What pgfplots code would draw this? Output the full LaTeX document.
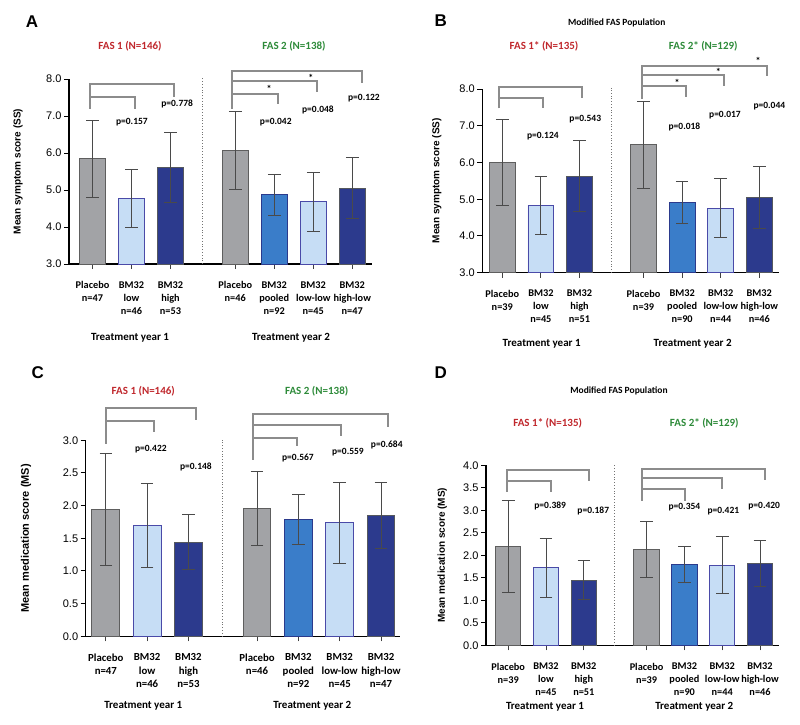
\documentclass[border=0pt]{standalone}
\usepackage{pgfplots}
\pgfplotsset{compat=1.18}
\usepackage{fontspec}
\setmainfont{Carlito}
\newfontfamily\arialf{Liberation Sans}

\definecolor{cgray}{HTML}{A2A3A6}
\definecolor{cgrayd}{HTML}{5E5E5E}
\definecolor{clight}{HTML}{C6DDF5}
\definecolor{clightd}{HTML}{4A4AA8}
\definecolor{cmed}{HTML}{3A7DC9}
\definecolor{cmedd}{HTML}{2B3A8C}
\definecolor{cnavy}{HTML}{2C3A8D}
\definecolor{cnavyd}{HTML}{55585E}
\definecolor{errc}{HTML}{4A4A4A}
\definecolor{brc}{HTML}{8C8C8C}
\definecolor{fasred}{HTML}{C0282D}
\definecolor{fasgreen}{HTML}{2E8B3A}

\newcommand{\fs}[2]{\fontsize{#1}{#2}\selectfont}

\pgfplotsset{
  panel/.style={
    scale only axis, anchor=south west, clip=false,
    axis lines*=left,
    axis line style={-, line width=1.2pt, black},
    ybar, bar width=0.67, bar shift=0pt,
    xtick={0,1,2,3.66,4.66,5.66,6.66},
    tick align=outside, major tick length=5pt,
    xtick style={line width=1pt, black!75},
    ytick style={line width=1pt, black},
    x tick label style={font=\bfseries\fs{10.3}{13}, align=center, yshift=-9pt},
    y tick label style={font=\arialf\fs{11}{12}, xshift=1pt},
    yticklabel style={/pgf/number format/.cd, fixed, fixed zerofill, precision=1, assume math mode=true},
    error bars/y dir=both, error bars/y explicit,
    error bars/error bar style={line width=1pt, errc},
    error bars/error mark options={rotate=90, line width=1pt, errc, mark size=6.3pt},
  },
  gbar/.style={fill=cgray, draw=cgrayd, line width=1pt},
  lbar/.style={fill=clight, draw=clightd, line width=0.9pt},
  mbar/.style={fill=cmed, draw=cmedd, line width=0.9pt},
  nbar/.style={fill=cnavy, draw=cnavyd, line width=0.9pt},
}
\tikzset{
  brk/.style={draw=brc, line width=2pt},
  sep/.style={dotted, black!55, line width=0.8pt},
  pval/.style={font=\bfseries\fs{9.5}{10}},
  star/.style={font=\bfseries\fs{10}{10}},
  letter/.style={font=\arialf\bfseries\fs{17}{17}},
  fas/.style={font=\bfseries\fs{11}{12}},
  treat/.style={font=\bfseries\fs{11}{12}},
  modif/.style={font=\bfseries\fs{9.5}{11}},
  ylab/.style={font=\arialf\bfseries\fs{10}{12}, rotate=90},
}

\begin{document}
\begin{tikzpicture}
\useasboundingbox (0pt,0pt) rectangle (800pt,-725pt);

% ---------------- A ----------------
\begin{axis}[panel,
  at={(69pt,-264pt)}, width=303pt, height=185pt,
  xmin=-0.603, xmax=7.167, ymin=3, ymax=8, ytick={3,4,...,8},
  xticklabels={{Placebo\\n=47},{BM32\\low\\n=46},{BM32\\high\\n=53},{Placebo\\n=46},{BM32\\pooled\\n=92},{BM32\\low-low\\n=45},{BM32\\high-low\\n=47}},
]
\addplot[gbar] coordinates {(0,5.85) +- (0,1.04) (3.66,6.07) +- (0,1.06)};
\addplot[lbar] coordinates {(1,4.78) +- (0,0.78) (5.66,4.68) +- (0,0.80)};
\addplot[mbar] coordinates {(4.66,4.87) +- (0,0.56)};
\addplot[nbar] coordinates {(2,5.60) +- (0,0.95) (6.66,5.05) +- (0,0.82)};
\draw[sep] (axis cs:2.81,3) -- (axis cs:2.81,8.04);
\draw[brk] (axis cs:-0.06,7.2) -- (axis cs:-0.06,7.86) -- (axis cs:2.1,7.86) -- (axis cs:2.1,7.52);
\draw[brk] (axis cs:-0.06,7.52) -- (axis cs:1.1,7.52) -- (axis cs:1.1,7.2);
\draw[brk] (axis cs:3.58,7.2) -- (axis cs:3.58,8.22) -- (axis cs:6.91,8.22) -- (axis cs:6.91,7.88);
\draw[brk] (axis cs:3.58,7.95) -- (axis cs:5.76,7.95) -- (axis cs:5.76,7.64);
\draw[brk] (axis cs:3.58,7.6) -- (axis cs:4.76,7.6) -- (axis cs:4.76,7.32);
\node[star] at (axis cs:4.53,7.74) {*};
\node[star] at (axis cs:5.6,8.04) {*};
\node[pval] at (axis cs:1.01,6.84) {p=0.157};
\node[pval] at (axis cs:2.17,7.32) {p=0.778};
\node[pval] at (axis cs:4.7,6.84) {p=0.042};
\node[pval] at (axis cs:5.78,7.16) {p=0.048};
\node[pval] at (axis cs:6.96,7.49) {p=0.122};
\end{axis}
\node[letter] at (32pt,-22pt) {A};
\node[fas, fasred] at (130pt,-46pt) {FAS 1 (N=146)};
\node[fas, fasgreen] at (294pt,-46pt) {FAS 2 (N=138)};
\node[treat] at (130pt,-338pt) {Treatment year 1};
\node[treat] at (291pt,-338pt) {Treatment year 2};
\node[ylab] at (18pt,-171.5pt) {Mean symptom score (SS)};

% ---------------- B ----------------
\begin{axis}[panel,
  at={(482.3pt,-272.7pt)}, width=296.7pt, height=183.7pt,
  xmin=-0.518, xmax=7.17, ymin=3, ymax=8, ytick={3,4,...,8},
  xticklabels={{Placebo\\n=39},{BM32\\low\\n=45},{BM32\\high\\n=51},{Placebo\\n=39},{BM32\\pooled\\n=90},{BM32\\low-low\\n=44},{BM32\\high-low\\n=46}},
]
\addplot[gbar] coordinates {(0,6.00) +- (0,1.17) (3.66,6.48) +- (0,1.18)};
\addplot[lbar] coordinates {(1,4.84) +- (0,0.79) (5.66,4.76) +- (0,0.81)};
\addplot[mbar] coordinates {(4.66,4.90) +- (0,0.57)};
\addplot[nbar] coordinates {(2,5.63) +- (0,0.97) (6.66,5.04) +- (0,0.84)};
\draw[sep] (axis cs:2.82,3) -- (axis cs:2.82,8.04);
\draw[brk] (axis cs:-0.085,7.47) -- (axis cs:-0.085,8.05) -- (axis cs:2.06,8.05) -- (axis cs:2.06,7.76);
\draw[brk] (axis cs:-0.085,7.76) -- (axis cs:1.06,7.76) -- (axis cs:1.06,7.47);
\draw[brk] (axis cs:3.63,7.73) -- (axis cs:3.63,8.63) -- (axis cs:6.85,8.63) -- (axis cs:6.85,8.35);
\draw[brk] (axis cs:3.63,8.37) -- (axis cs:5.75,8.37) -- (axis cs:5.75,8.08);
\draw[brk] (axis cs:3.63,8.07) -- (axis cs:4.75,8.07) -- (axis cs:4.75,7.79);
\node[star] at (axis cs:4.53,8.16) {*};
\node[star] at (axis cs:5.6,8.47) {*};
\node[star] at (axis cs:6.63,8.77) {*};
\node[pval] at (axis cs:1.05,6.72) {p=0.124};
\node[pval] at (axis cs:2.15,7.18) {p=0.543};
\node[pval] at (axis cs:4.72,6.96) {p=0.018};
\node[pval] at (axis cs:5.77,7.29) {p=0.017};
\node[pval] at (axis cs:6.92,7.54) {p=0.044};
\end{axis}
\node[letter] at (440.7pt,-20.7pt) {B};
\node[modif] at (616.7pt,-22.7pt) {Modified FAS Population};
\node[fas, fasred] at (544pt,-46.7pt) {FAS 1* (N=135)};
\node[fas, fasgreen] at (703.3pt,-46.7pt) {FAS 2* (N=129)};
\node[treat] at (541.7pt,-343.7pt) {Treatment year 1};
\node[treat] at (692.7pt,-343.7pt) {Treatment year 2};
\node[ylab] at (436.7pt,-180.8pt) {Mean symptom score (SS)};

% ---------------- C ----------------
\begin{axis}[panel,
  at={(85.7pt,-636.3pt)}, width=314.3pt, height=196pt,
  xmin=-0.487, xmax=7.12, ymin=0, ymax=3, ytick={0,0.5,...,3},
  x tick label style={font=\bfseries\fs{10.8}{13.5}},
  xticklabels={{Placebo\\n=47},{BM32\\low\\n=46},{BM32\\high\\n=53},{Placebo\\n=46},{BM32\\pooled\\n=92},{BM32\\low-low\\n=45},{BM32\\high-low\\n=47}},
]
\addplot[gbar] coordinates {(0,1.94) +- (0,0.86) (3.66,1.95) +- (0,0.565)};
\addplot[lbar] coordinates {(1,1.70) +- (0,0.645) (5.66,1.74) +- (0,0.62)};
\addplot[mbar] coordinates {(4.66,1.79) +- (0,0.385)};
\addplot[nbar] coordinates {(2,1.44) +- (0,0.42) (6.66,1.85) +- (0,0.50)};
\draw[sep] (axis cs:2.82,0) -- (axis cs:2.82,3.02);
\draw[brk] (axis cs:0.01,2.95) -- (axis cs:0.01,3.49) -- (axis cs:2.18,3.49) -- (axis cs:2.18,3.31);
\draw[brk] (axis cs:0.01,3.30) -- (axis cs:1.16,3.30) -- (axis cs:1.16,3.12);
\draw[brk] (axis cs:3.55,2.70) -- (axis cs:3.55,3.41) -- (axis cs:6.84,3.41) -- (axis cs:6.84,3.21);
\draw[brk] (axis cs:3.55,3.23) -- (axis cs:5.7,3.23) -- (axis cs:5.7,3.06);
\draw[brk] (axis cs:3.55,3.04) -- (axis cs:4.62,3.04) -- (axis cs:4.62,2.91);
\node[pval] at (axis cs:1.09,2.86) {p=0.422};
\node[pval] at (axis cs:2.18,2.59) {p=0.148};
\node[pval] at (axis cs:4.65,2.73) {p=0.567};
\node[pval] at (axis cs:5.86,2.82) {p=0.559};
\node[pval] at (axis cs:6.8,2.93) {p=0.684};
\end{axis}
\node[letter] at (37.7pt,-372.7pt) {C};
\node[fas, fasred] at (143.3pt,-391pt) {FAS 1 (N=146)};
\node[fas, fasgreen] at (316.7pt,-391pt) {FAS 2 (N=138)};
\node[treat] at (143.3pt,-705.3pt) {Treatment year 1};
\node[treat] at (312.3pt,-705.3pt) {Treatment year 2};
\node[ylab, font=\arialf\bfseries\fs{11}{12}] at (26pt,-538.3pt) {Mean medication score (MS)};

% ---------------- D ----------------
\begin{axis}[panel,
  at={(486pt,-645.3pt)}, width=293.3pt, height=180pt,
  xmin=-0.587, xmax=7.17, ymin=0, ymax=4, ytick={0,0.5,...,4},
  xticklabels={{Placebo\\n=39},{BM32\\low\\n=45},{BM32\\high\\n=51},{Placebo\\n=39},{BM32\\pooled\\n=90},{BM32\\low-low\\n=44},{BM32\\high-low\\n=46}},
]
\addplot[gbar] coordinates {(0,2.20) +- (0,1.02) (3.66,2.13) +- (0,0.63)};
\addplot[lbar] coordinates {(1,1.72) +- (0,0.66) (5.66,1.78) +- (0,0.63)};
\addplot[mbar] coordinates {(4.66,1.80) +- (0,0.395)};
\addplot[nbar] coordinates {(2,1.45) +- (0,0.43) (6.66,1.82) +- (0,0.505)};
\draw[sep] (axis cs:2.82,0) -- (axis cs:2.82,4.03);
\draw[brk] (axis cs:-0.02,3.41) -- (axis cs:-0.02,3.90) -- (axis cs:2.13,3.90) -- (axis cs:2.13,3.66);
\draw[brk] (axis cs:-0.02,3.66) -- (axis cs:1.13,3.66) -- (axis cs:1.13,3.41);
\draw[brk] (axis cs:3.54,3.21) -- (axis cs:3.54,3.92) -- (axis cs:6.79,3.92) -- (axis cs:6.79,3.67);
\draw[brk] (axis cs:3.54,3.71) -- (axis cs:5.66,3.71) -- (axis cs:5.66,3.47);
\draw[brk] (axis cs:3.54,3.47) -- (axis cs:4.68,3.47) -- (axis cs:4.68,3.21);
\node[pval] at (axis cs:1.11,3.10) {p=0.389};
\node[pval] at (axis cs:2.25,2.99) {p=0.187};
\node[pval] at (axis cs:4.66,3.08) {p=0.354};
\node[pval] at (axis cs:5.69,2.98) {p=0.421};
\node[pval] at (axis cs:6.77,3.10) {p=0.420};
\end{axis}
\node[letter] at (440.7pt,-372.7pt) {D};
\node[modif] at (619pt,-390.7pt) {Modified FAS Population};
\node[fas, fasred] at (547.7pt,-423.3pt) {FAS 1* (N=135)};
\node[fas, fasgreen] at (704.3pt,-423.3pt) {FAS 2* (N=129)};
\node[treat] at (545pt,-706.7pt) {Treatment year 1};
\node[treat] at (694.3pt,-706.7pt) {Treatment year 2};
\node[ylab] at (442.3pt,-555.3pt) {Mean medication score (MS)};
\end{tikzpicture}
\end{document}
